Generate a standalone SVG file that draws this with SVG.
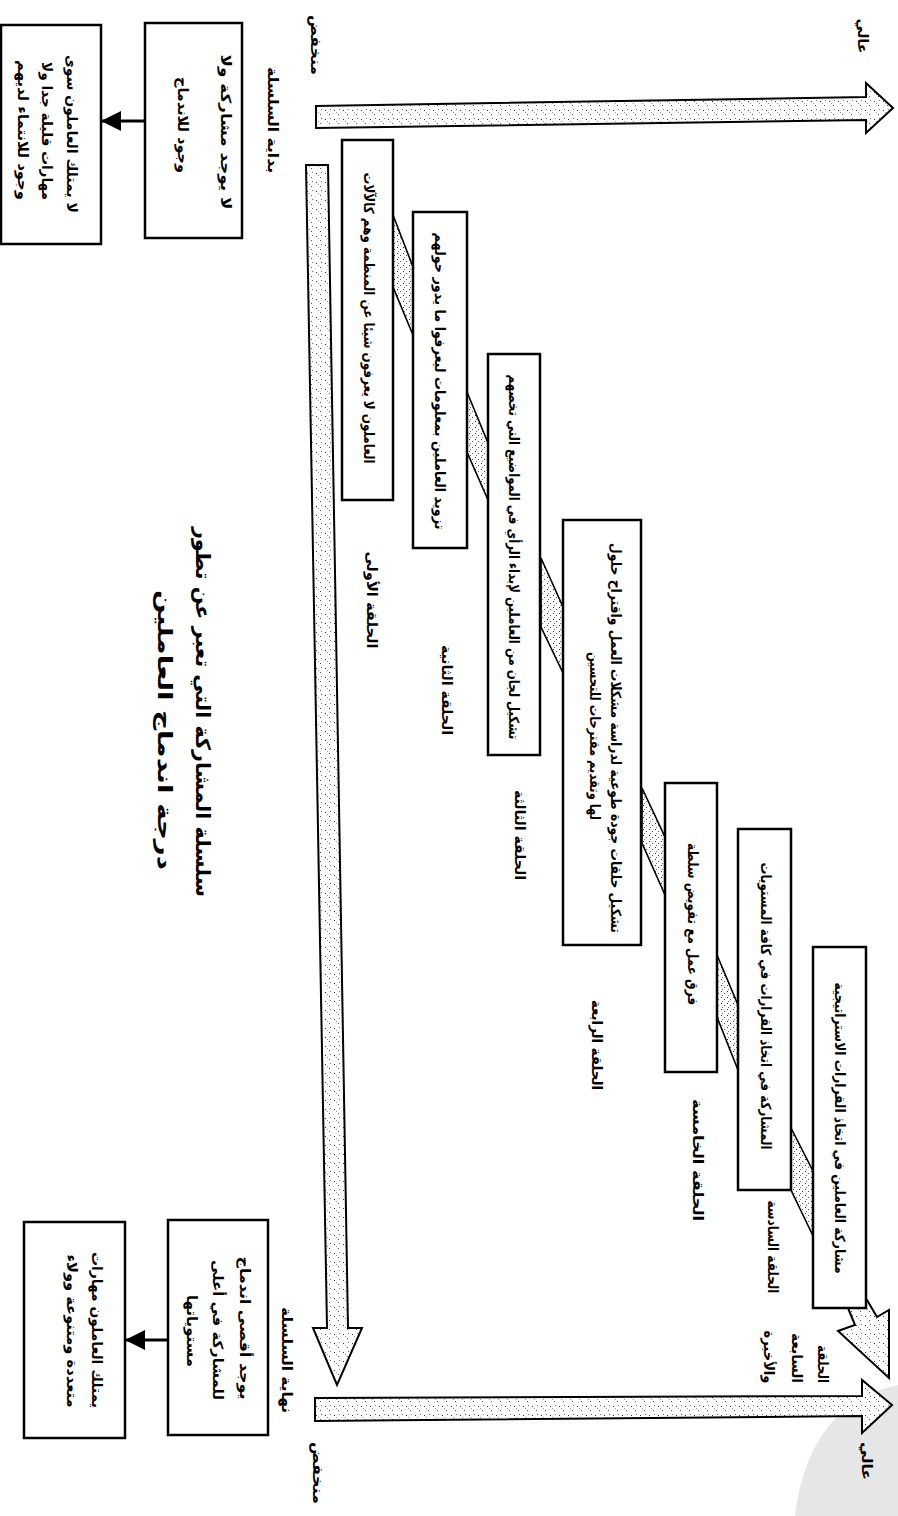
<svg xmlns="http://www.w3.org/2000/svg" width="898" height="1516" viewBox="0 0 898 1516">
<style>
.bx{fill:#fff;stroke:#000;stroke-width:2.5}
.fat{fill:url(#dots);stroke:#000;stroke-width:2;stroke-linejoin:miter}
.band{fill:url(#dots2);stroke:#000;stroke-width:1.6}
.t{font-family:"DejaVu Sans",sans-serif;font-weight:bold;font-size:14px;fill:#000;text-anchor:middle;dominant-baseline:central}
.ttl{font-size:20px}
.ln{stroke:#000;stroke-width:3;fill:none}
</style>
<defs>
<pattern id="dots" width="9" height="9" patternUnits="userSpaceOnUse">
<rect width="9" height="9" fill="#fff"/>
<rect x="1" y="2" width="1" height="1" fill="#333"/>
<rect x="5" y="6" width="1" height="1" fill="#555"/>
<rect x="6" y="1" width="1" height="1" fill="#777"/>
<rect x="3" y="4" width="1" height="1" fill="#999"/>
</pattern>
<pattern id="dots2" width="6" height="6" patternUnits="userSpaceOnUse">
<rect width="6" height="6" fill="#fff"/>
<rect x="1" y="1" width="1" height="1" fill="#333"/>
<rect x="4" y="3" width="1" height="1" fill="#555"/>
<rect x="2" y="5" width="1" height="1" fill="#777"/>
</pattern>
<marker id="ah" markerUnits="userSpaceOnUse" markerWidth="22" markerHeight="22" refX="20" refY="11" orient="auto">
<path d="M0,1 L20,11 L0,21 Z" fill="#000"/>
</marker>
</defs>
<rect width="898" height="1516" fill="#fff"/>
<path d="M898,1385 C850,1395 805,1430 795,1516 L898,1516 Z" fill="#dcdcdc" opacity="0.7"/>

<g id="connectors">
<polygon class="band" points="393,215 413,267 413,335 393,287"/>
<polygon class="band" points="467,392 488,443 488,500 467,452"/>
<polygon class="band" points="541,558 563,607 563,673 541,627"/>
<polygon class="band" points="642,788 665,837 665,895 642,843"/>
<polygon class="band" points="717,955 738,1005 738,1070 717,1017"/>
<polygon class="band" points="791,1128 815,1175 815,1240 791,1190"/>
<polygon class="fat" points="316,106 866,97 866,83 893,108 866,133 866,120 316,128"/>
<polygon class="fat" points="315,1398 862,1396 862,1380 892,1405 862,1433 862,1416 315,1421"/>
<polygon class="fat" points="306,165 328,165 348,1328 362,1328 337,1385 313,1328 327,1328"/>
<polygon class="fat" points="848,1308 855,1325 838,1331 889,1378 889,1310 877,1317 867,1300"/>
<line class="ln" x1="145" y1="121" x2="101" y2="121" marker-end="url(#ah)"/>
<line class="ln" x1="168" y1="1340" x2="125" y2="1340" marker-end="url(#ah)"/>
</g>

<g id="axis-labels">
<text class="t" transform="translate(316,45) rotate(90)" textLength="60" lengthAdjust="spacingAndGlyphs">منخفض</text>
<text class="t" transform="translate(863,36) rotate(90)" textLength="35" lengthAdjust="spacingAndGlyphs">عالي</text>
<text class="t" transform="translate(318,1473) rotate(90)" textLength="62" lengthAdjust="spacingAndGlyphs">منخفض</text>
<text class="t" transform="translate(867,1461) rotate(90)" textLength="38" lengthAdjust="spacingAndGlyphs">عالي</text>
<text class="t" transform="translate(273,120) rotate(90)" textLength="106" lengthAdjust="spacingAndGlyphs">بداية السلسلة</text>
<text class="t" transform="translate(287,1360) rotate(90)" textLength="106" lengthAdjust="spacingAndGlyphs">نهاية السلسلة</text>
</g>

<g id="start-box">
<rect class="bx" x="145" y="23" width="97" height="215"/>
<text class="t" transform="translate(226,132) rotate(90)" textLength="155" lengthAdjust="spacingAndGlyphs">لا يوجد مشاركة ولا</text>
<text class="t" transform="translate(183,125) rotate(90)" textLength="96" lengthAdjust="spacingAndGlyphs">وجود للاندماج</text>
</g>
<g id="start-result">
<rect class="bx" x="1" y="25" width="100" height="219"/>
<text class="t" transform="translate(72,134) rotate(90)" textLength="158" lengthAdjust="spacingAndGlyphs">لا يمتلك العاملون سوى</text>
<text class="t" transform="translate(47,131) rotate(90)" textLength="138" lengthAdjust="spacingAndGlyphs">مهارات قليلة جدا ولا</text>
<text class="t" transform="translate(23,130) rotate(90)" textLength="140" lengthAdjust="spacingAndGlyphs">وجود للانتماء لديهم</text>
</g>

<g id="end-box">
<rect class="bx" x="168" y="1220" width="100" height="215"/>
<text class="t" transform="translate(245,1328) rotate(90)" textLength="143" lengthAdjust="spacingAndGlyphs">يوجد أقصى اندماج</text>
<text class="t" transform="translate(218,1330) rotate(90)" textLength="140" lengthAdjust="spacingAndGlyphs">للمشاركة في أعلى</text>
<text class="t" transform="translate(192,1331) rotate(90)" textLength="72" lengthAdjust="spacingAndGlyphs">مستوياتها</text>
</g>
<g id="end-result">
<rect class="bx" x="24" y="1222" width="101" height="216"/>
<text class="t" transform="translate(97,1330) rotate(90)" textLength="156" lengthAdjust="spacingAndGlyphs">يمتلك العاملون مهارات</text>
<text class="t" transform="translate(72,1331) rotate(90)" textLength="153" lengthAdjust="spacingAndGlyphs">متعددة ومتنوعة وولاء</text>
</g>

<g id="ring1">
<rect class="bx" x="342" y="140" width="51" height="360"/>
<text class="t" transform="translate(369,318) rotate(90)" textLength="291" lengthAdjust="spacingAndGlyphs">العاملون لا يعرفون شيئا عن المنظمة وهم كالآلات</text>
<text class="t" transform="translate(372,600) rotate(90)" textLength="97" lengthAdjust="spacingAndGlyphs">الحلقة الأولى</text>
</g>
<g id="ring2">
<rect class="bx" x="413" y="212" width="54" height="336"/>
<text class="t" transform="translate(440,381) rotate(90)" textLength="297" lengthAdjust="spacingAndGlyphs">تزويد العاملين بمعلومات ليعرفوا ما يدور حولهم</text>
<text class="t" transform="translate(447,690) rotate(90)" textLength="90" lengthAdjust="spacingAndGlyphs">الحلقة الثانية</text>
</g>
<g id="ring3">
<rect class="bx" x="488" y="354" width="52" height="401"/>
<text class="t" transform="translate(514,557) rotate(90)" textLength="365" lengthAdjust="spacingAndGlyphs">تشكيل لجان من العاملين لإبداء الرأي في المواضيع التي تخصهم</text>
<text class="t" transform="translate(520,835) rotate(90)" textLength="90" lengthAdjust="spacingAndGlyphs">الحلقة الثالثة</text>
</g>
<g id="ring4">
<rect class="bx" x="563" y="520" width="78" height="425"/>
<text class="t" transform="translate(616,738) rotate(90)" textLength="390" lengthAdjust="spacingAndGlyphs">تشكيل حلقات جودة طوعية لدراسة مشكلات العمل واقتراح حلول</text>
<text class="t" transform="translate(595,736) rotate(90)" textLength="168" lengthAdjust="spacingAndGlyphs">لها وتقديم مقترحات للتحسين</text>
<text class="t" transform="translate(597,1045) rotate(90)" textLength="90" lengthAdjust="spacingAndGlyphs">الحلقة الرابعة</text>
</g>
<g id="ring5">
<rect class="bx" x="665" y="783" width="52" height="289"/>
<text class="t" transform="translate(693,924) rotate(90)" textLength="162" lengthAdjust="spacingAndGlyphs">فرق عمل مع تفويض سلطة</text>
<text class="t" transform="translate(698,1160) rotate(90)" textLength="122" lengthAdjust="spacingAndGlyphs">الحلقة الخامسة</text>
</g>
<g id="ring6">
<rect class="bx" x="738" y="829" width="53" height="361"/>
<text class="t" transform="translate(766,1006) rotate(90)" textLength="287" lengthAdjust="spacingAndGlyphs">المشاركة في اتخاذ القرارات في كافة المستويات</text>
<text class="t" transform="translate(773,1247) rotate(90)" textLength="93" lengthAdjust="spacingAndGlyphs">الحلقة السادسة</text>
</g>
<g id="ring7">
<rect class="bx" x="813" y="947" width="53" height="361"/>
<text class="t" transform="translate(840,1128) rotate(90)" textLength="291" lengthAdjust="spacingAndGlyphs">مشاركة العاملين في اتخاذ القرارات الاستراتيجية</text>
<text class="t" transform="translate(823,1364) rotate(90)" textLength="38" lengthAdjust="spacingAndGlyphs">الحلقة</text>
<text class="t" transform="translate(797,1358) rotate(90)" textLength="50" lengthAdjust="spacingAndGlyphs">السابعة</text>
<text class="t" transform="translate(769,1357) rotate(90)" textLength="53" lengthAdjust="spacingAndGlyphs">والأخيرة</text>
</g>

<g id="title">
<text class="t ttl" transform="translate(203,712) rotate(90)" textLength="370" lengthAdjust="spacingAndGlyphs">سلسلة المشاركة التي تعبر عن تطور</text>
<text class="t ttl" transform="translate(165,730) rotate(90)" textLength="280" lengthAdjust="spacingAndGlyphs">درجة اندماج العاملين</text>
</g>
</svg>
